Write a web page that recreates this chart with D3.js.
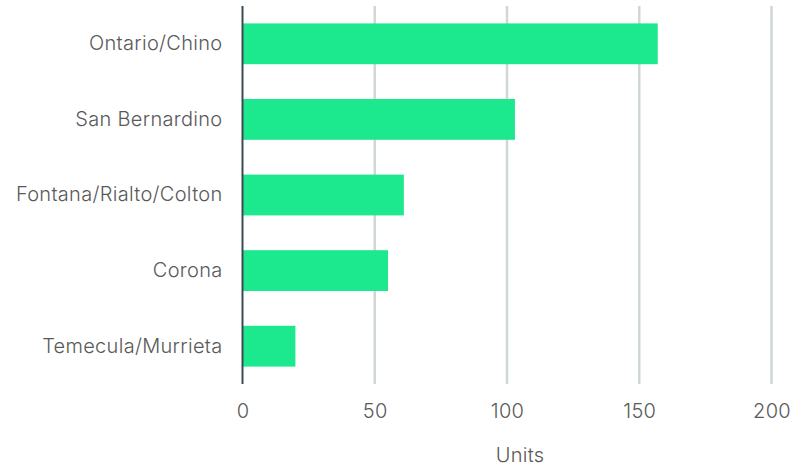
<!DOCTYPE html>
<html lang="en">
<head>
    <meta charset="UTF-8">
    <title>Units by submarket</title>
    <style>
        body { margin: 0; background: #fff; }
        text { font-family: Inter, Roboto, sans-serif; font-weight: 300; fill: #595959; letter-spacing: 0.3px; }
    </style>
    <script src="https://d3js.org/d3.v7.min.js"></script>
</head>
<body>
    <div class="graph"></div>
<script>
    const categories = ['Ontario/Chino', 'San Bernardino', 'Fontana/Rialto/Colton', 'Corona', 'Temecula/Murrieta']
    const units = [157, 103, 61, 55, 20]
    const xTicks = [0, 50, 100, 150, 200]

    const width = 810, height = 468
    const margin = { left: 242.5, right: 38, top: 6, bottom: 84 }

    const svg = d3.select('.graph').append('svg')
        .attr('width', width)
        .attr('height', height)

    const x = d3.scaleLinear()
        .domain([0, 200])
        .range([margin.left, 771.5])
    const y = d3.scaleBand()
        .domain(categories)
        .range([margin.top, height - margin.bottom])
        .paddingInner(0.46)
        .paddingOuter(0.23)

    // gridlines
    svg.append('g')
        .selectAll('line')
        .data(xTicks.slice(1))
        .join('line')
        .attr('x1', d => x(d)).attr('x2', d => x(d))
        .attr('y1', margin.top).attr('y2', height - margin.bottom)
        .attr('stroke', '#cfd7d7')
        .attr('stroke-width', 2.5)

    svg.append('g')
        .selectAll('rect')
        .data(units)
        .join('rect')
        .attr('x', x(0))
        .attr('y', (d, i) => y(categories[i]))
        .attr('width', d => x(d) - x(0))
        .attr('height', y.bandwidth())
        .attr('fill', '#1ce88e')

    // zero axis line
    svg.append('line')
        .attr('x1', x(0)).attr('x2', x(0))
        .attr('y1', margin.top).attr('y2', height - margin.bottom)
        .attr('stroke', '#3b4a50')
        .attr('stroke-width', 2)

    const yAxis = svg.append('g')
        .attr('transform', `translate(${x(0)},0)`)
        .call(d3.axisLeft(y).tickSize(0).tickPadding(20))
    yAxis.select('.domain').remove()
    yAxis.selectAll('text')
        .style('font-size', '20px')
        .attr('fill', '#595959')

    const xAxis = svg.append('g')
        .attr('transform', `translate(0,${height - margin.bottom})`)
        .call(d3.axisBottom(x).tickValues(xTicks).tickSize(0).tickPadding(20))
    xAxis.select('.domain').remove()
    xAxis.selectAll('text')
        .style('font-size', '20px')
        .attr('fill', '#595959')

    svg.append('text')
        .attr('x', 520)
        .attr('y', 462)
        .attr('text-anchor', 'middle')
        .style('font-size', '20px')
        .text('Units')
</script>
</body>
</html>
